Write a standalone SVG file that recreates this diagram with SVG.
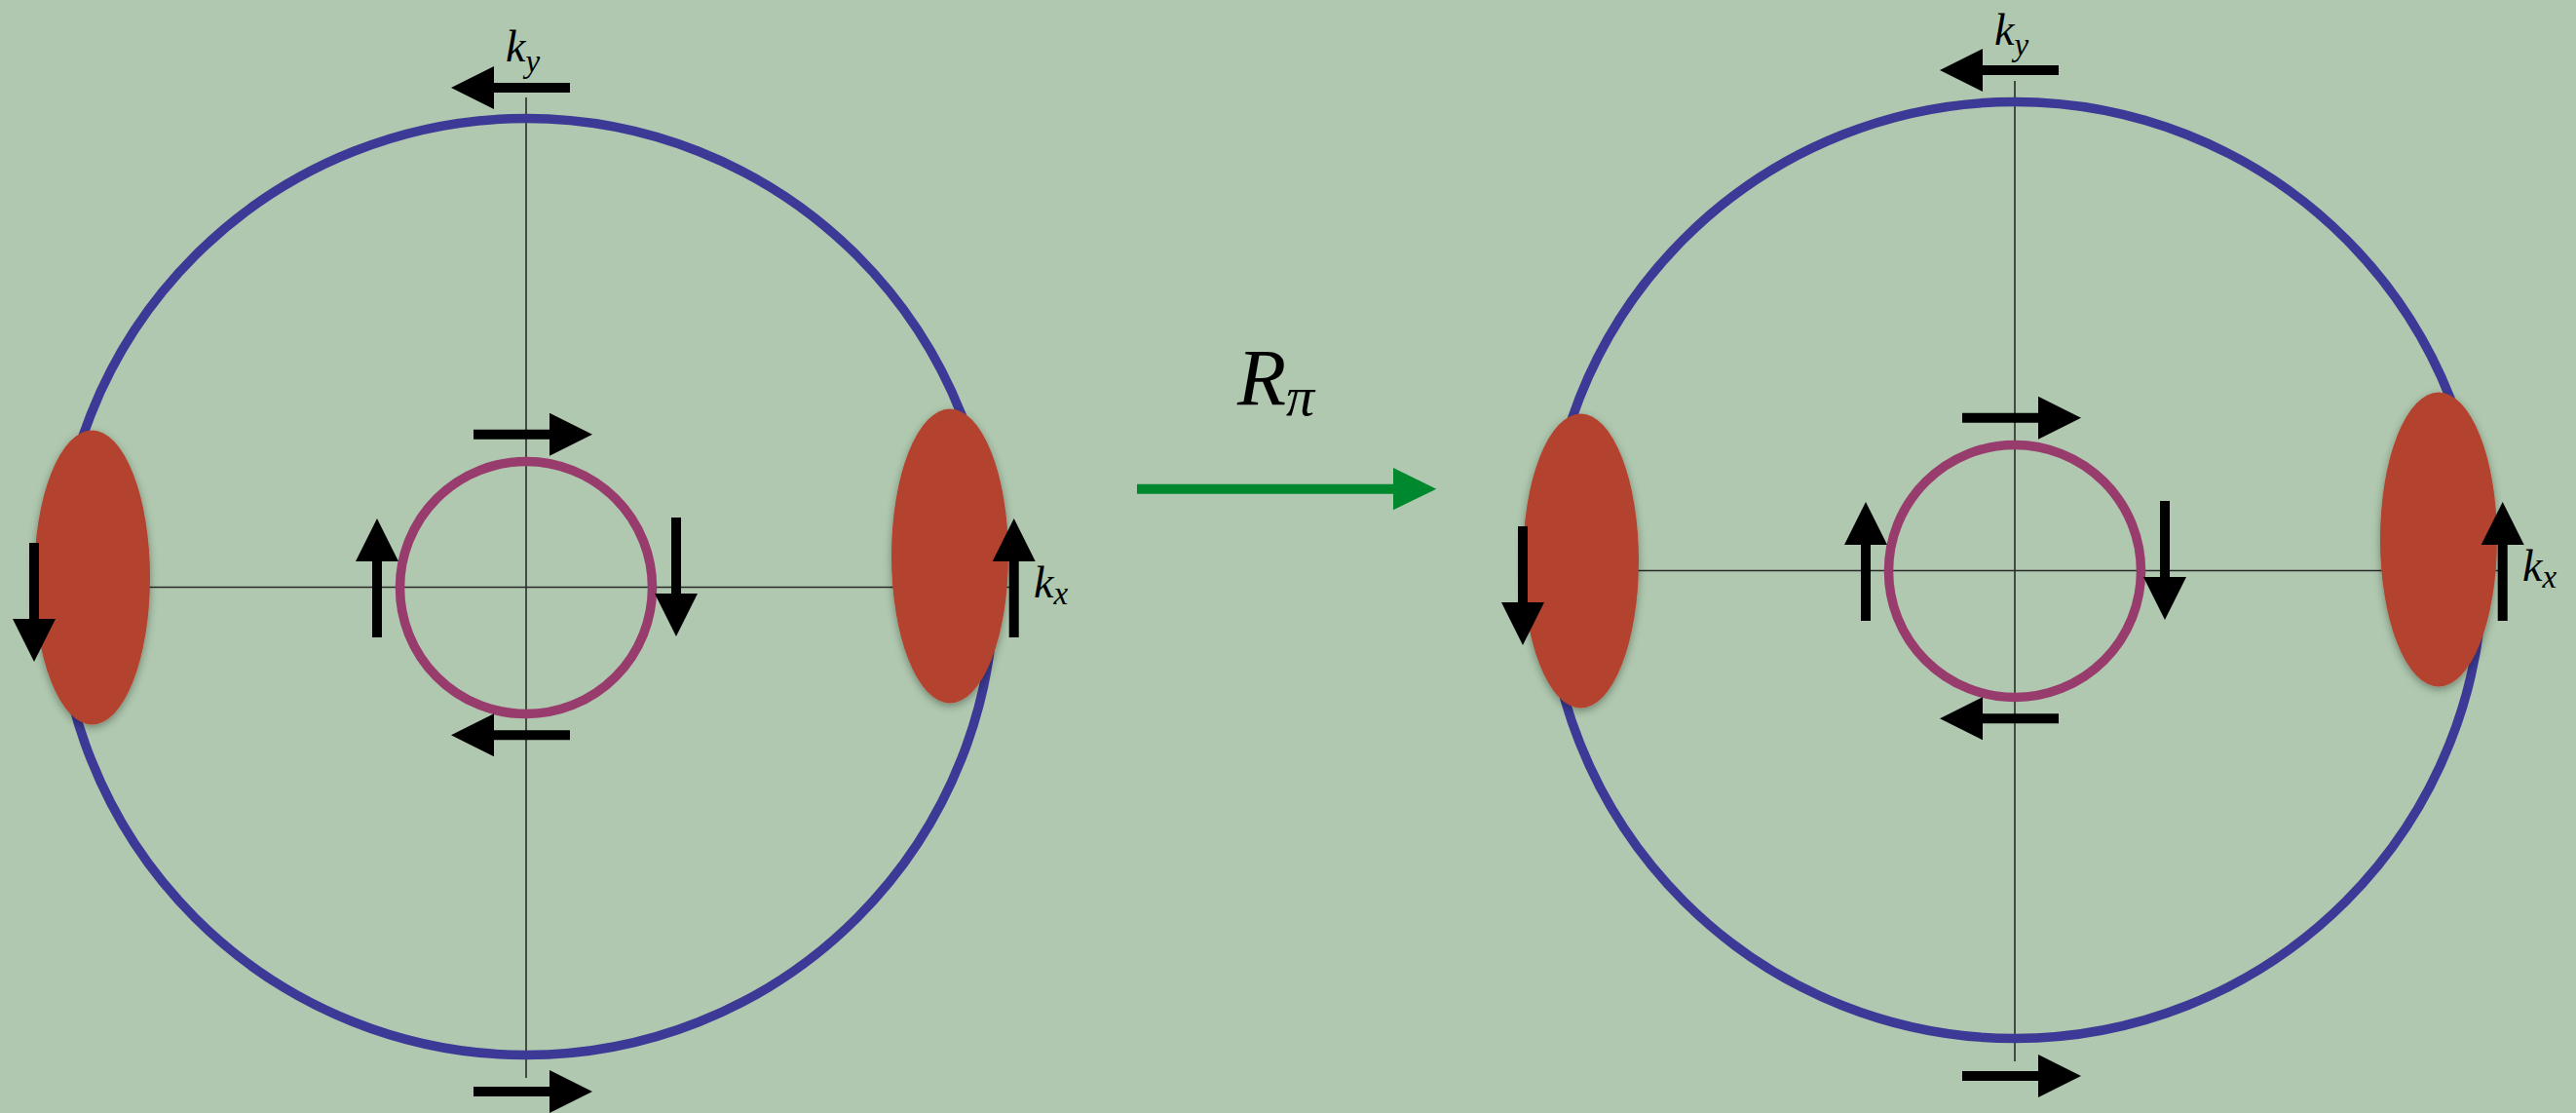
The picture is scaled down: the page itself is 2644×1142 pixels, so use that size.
<svg xmlns="http://www.w3.org/2000/svg" xmlns:xlink="http://www.w3.org/1999/xlink" width="2644" height="1142" viewBox="0 0 2644 1142">
<style>
.axis{stroke:#2a2a2a;stroke-width:1.6;fill:none}
.outer{fill:none;stroke:#3c3a96;stroke-width:9.5}
.inner{fill:none;stroke:#983c6e;stroke-width:9.5}
.blob{fill:#b3432f;filter:url(#sh)}
.arr{fill:#000}
.lbl{font-family:"Liberation Serif","Times New Roman",serif;font-style:italic;fill:#000}
</style>
<defs>
<filter id="sh" x="-30%" y="-20%" width="160%" height="140%">
<feDropShadow dx="0" dy="3" stdDeviation="4" flood-color="#000" flood-opacity="0.35"/>
</filter>
<!-- right-pointing arrow, origin at shaft start, centre line y=0 -->
<path id="ar" d="M0,-5 H78 V-22 L122,0 L78,22 V5 H0 Z"/>
</defs>
<rect width="2644" height="1142" fill="#afc8af"/>

<g id="left-diagram">
  <g id="left-axes">
    <line class="axis" x1="540" y1="100" x2="540" y2="1106"/>
    <line class="axis" x1="60" y1="602.5" x2="1036" y2="602.5"/>
  </g>
  <circle id="left-outer" class="outer" cx="540" cy="602" r="480.5"/>
  <ellipse id="left-blob-l" class="blob" cx="94.5" cy="592.5" rx="59.5" ry="151"/>
  <ellipse id="left-blob-r" class="blob" cx="975" cy="570.5" rx="60" ry="151"/>
  <circle id="left-inner" class="inner" cx="540" cy="603" r="129.5"/>
  <g id="left-arrows" class="arr">
    <use xlink:href="#ar" transform="translate(585,90) rotate(180)"/>
    <use xlink:href="#ar" transform="translate(486,445.7)"/>
    <use xlink:href="#ar" transform="translate(387,654) rotate(-90)"/>
    <use xlink:href="#ar" transform="translate(694,531) rotate(90)"/>
    <use xlink:href="#ar" transform="translate(585,754.3) rotate(180)"/>
    <use xlink:href="#ar" transform="translate(486,1120)"/>
    <use xlink:href="#ar" transform="translate(35,557) rotate(90)"/>
    <use xlink:href="#ar" transform="translate(1040.7,654) rotate(-90)"/>
  </g>
  <g id="left-labels">
    <text class="lbl" x="519" y="63" font-size="46">k<tspan font-size="33" dy="11">y</tspan></text>
    <text class="lbl" x="1061" y="613" font-size="46">k<tspan font-size="33" dy="7">x</tspan></text>
  </g>
</g>

<g id="right-diagram">
  <g id="right-axes">
    <line class="axis" x1="2068" y1="83" x2="2068" y2="1089"/>
    <line class="axis" x1="1588" y1="585.5" x2="2564" y2="585.5"/>
  </g>
  <circle id="right-outer" class="outer" cx="2068" cy="585" r="480.5"/>
  <ellipse id="right-blob-l" class="blob" cx="1622.5" cy="575.5" rx="59.5" ry="151"/>
  <ellipse id="right-blob-r" class="blob" cx="2503" cy="553.5" rx="60" ry="151"/>
  <circle id="right-inner" class="inner" cx="2068" cy="586" r="129.5"/>
  <g id="right-arrows" class="arr">
    <use xlink:href="#ar" transform="translate(2113,72) rotate(180)"/>
    <use xlink:href="#ar" transform="translate(2014,428.7)"/>
    <use xlink:href="#ar" transform="translate(1915,637) rotate(-90)"/>
    <use xlink:href="#ar" transform="translate(2222,514) rotate(90)"/>
    <use xlink:href="#ar" transform="translate(2113,737.3) rotate(180)"/>
    <use xlink:href="#ar" transform="translate(2014,1104)"/>
    <use xlink:href="#ar" transform="translate(1563,540) rotate(90)"/>
    <use xlink:href="#ar" transform="translate(2568.7,637) rotate(-90)"/>
  </g>
  <g id="right-labels">
    <text class="lbl" x="2047" y="46" font-size="46">k<tspan font-size="33" dy="11">y</tspan></text>
    <text class="lbl" x="2589" y="596" font-size="46">k<tspan font-size="33" dy="7">x</tspan></text>
  </g>
</g>

<g id="connectors">
  <g id="rotation-arrow">
    <line x1="1167" y1="501.7" x2="1432" y2="501.7" stroke="#00882e" stroke-width="10"/>
    <path d="M1430,480 L1474.3,501.7 L1430,523.3 Z" fill="#00882e"/>
    <text class="lbl" x="1270" y="415" font-size="82">R<tspan font-size="58" dy="11">π</tspan></text>
  </g>
</g>
</svg>
